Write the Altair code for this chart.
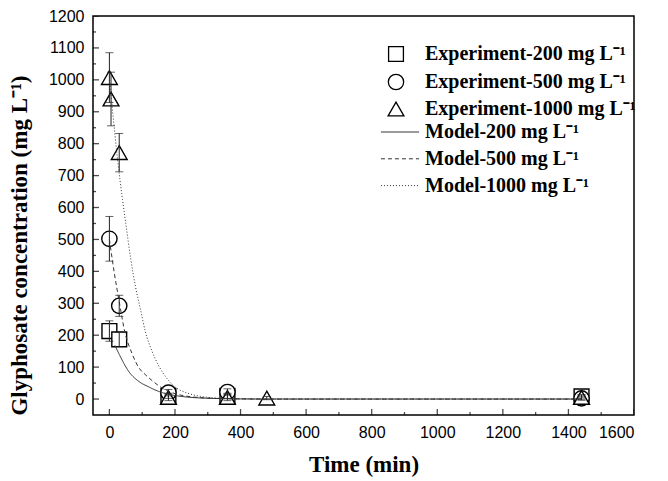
import altair as alt
import pandas as pd

# ---------------- data ----------------
exp_labels = ["Experiment-200 mg L⁻¹", "Experiment-500 mg L⁻¹", "Experiment-1000 mg L⁻¹"]
exp_shapes = ["square", "circle", "triangle-up"]

t_200 = [0, 30, 180, 360, 1440]
c_200 = [213, 187, 10, 10, 8]
e_200 = [32, 23, 8, 8, 5]

t_500 = [0, 30, 180, 360, 1440]
c_500 = [502, 292, 20, 22, 2]
e_500 = [70, 33, 10, 10, 5]

t_1000 = [0, 5, 30, 180, 360, 480, 1440]
c_1000 = [1007, 940, 772, 5, 5, 3, 5]
e_1000 = [78, 84, 60, 10, 10, 5, 8]

model_labels = ["Model-200 mg L⁻¹", "Model-500 mg L⁻¹", "Model-1000 mg L⁻¹"]
mt_200 = [17, 30, 60, 90, 120, 150, 180, 240, 300, 360, 480, 720, 1080, 1440]
mc_200 = [168, 140, 85, 55, 38, 24, 15, 6, 2.5, 1, 0, 0, 0, 0]
mt_500 = [0, 15, 30, 45, 70, 90, 110, 130, 160, 200, 250, 300, 360, 480, 720, 1440]
mc_500 = [500, 395, 305, 220, 140, 98, 76, 58, 35, 17, 7, 3, 1, 0, 0, 0]
mt_1000 = [0, 10, 25, 40, 50, 65, 80, 95, 110, 130, 150, 175, 200, 240, 280, 320, 360, 480, 720, 1440]
mc_1000 = [1010, 900, 750, 625, 550, 440, 350, 280, 210, 150, 105, 65, 38, 18, 8, 3.5, 1.5, 0, 0, 0]

x_major = [0, 200, 400, 600, 800, 1000, 1200, 1400, 1600]
x_minor = [100, 300, 500, 700, 900, 1100, 1300, 1500]
y_major = [0, 100, 200, 300, 400, 500, 600, 700, 800, 900, 1000, 1100, 1200]
y_minor = [50, 150, 250, 350, 450, 550, 650, 750, 850, 950, 1050, 1150]

# ---------------- tables ----------------
rows = []
for lab, ts, cs, es in zip(exp_labels, [t_200, t_500, t_1000], [c_200, c_500, c_1000], [e_200, e_500, e_1000]):
    for t, c, e in zip(ts, cs, es):
        rows.append({"t": t, "c": c, "lo": c - e, "hi": c + e, "exp": lab})
exp_df = pd.DataFrame(rows)
caps_df = pd.concat([
    exp_df[["t", "lo", "exp"]].rename(columns={"lo": "v"}),
    exp_df[["t", "hi", "exp"]].rename(columns={"hi": "v"}),
])

mrows = []
for lab, ts, cs in zip(model_labels, [mt_200, mt_500, mt_1000], [mc_200, mc_500, mc_1000]):
    for i, (t, c) in enumerate(zip(ts, cs)):
        mrows.append({"t": t, "c": c, "model": lab, "order": i})
model_df = pd.DataFrame(mrows)

W, H = 541, 399
xs = alt.Scale(domain=[-50, 1600], nice=False, zero=False)
ys = alt.Scale(domain=[-50, 1200], nice=False, zero=False)

serif = "Liberation Serif"
sans = "Liberation Sans"

main_x = alt.Axis(values=x_major, format="d", ticks=False, domain=False, grid=False,
                  labelFont=sans, labelFontSize=16, labelColor="black", labelPadding=9,
                  title="Time (min)", titleFont=serif, titleFontSize=23, titleFontWeight="bold",
                  titleColor="black", titlePadding=13)
main_y = alt.Axis(values=y_major, format="d", ticks=False, domain=False, grid=False,
                  labelFont=sans, labelFontSize=16, labelColor="black", labelPadding=9,
                  title="Glyphosate concentration (mg L⁻¹)", titleFont=serif, titleFontSize=23,
                  titleFontWeight="bold", titleColor="black", titleX=-62, titleY=229)

lines = alt.Chart(model_df).mark_line(interpolate="monotone", stroke="#333", strokeWidth=1).encode(
    x=alt.X("t:Q", scale=xs, axis=main_x),
    y=alt.Y("c:Q", scale=ys, axis=main_y),
    strokeDash=alt.StrokeDash("model:N",
        scale=alt.Scale(domain=model_labels, range=[[1, 0], [4, 3], [1, 2]]),
        legend=alt.Legend(orient="none", legendX=297, legendY=106, title="", padding=0,
                          symbolType="M-2.2,0H2.2", symbolSize=300, symbolStrokeColor="#333",
                          symbolFillColor="transparent",
                          symbolStrokeWidth=1, labelOffset=15, rowPadding=6.8,
                          labelFont=serif, labelFontSize=20, labelFontWeight="bold",
                          labelColor="black", labelLimit=400)),
    order="order:Q",
)

points = alt.Chart(exp_df).mark_point(filled=True, fill="white", stroke="black", strokeWidth=1.4, opacity=1).encode(
    x=alt.X("t:Q", scale=xs, axis=None),
    y=alt.Y("c:Q", scale=ys, axis=None),
    shape=alt.Shape("exp:N", scale=alt.Scale(domain=exp_labels, range=exp_shapes),
        legend=alt.Legend(orient="none", legendX=293, legendY=28, title="", padding=0,
                          symbolFillColor="white", symbolStrokeColor="black", symbolStrokeWidth=1.3,
                          labelOffset=19, rowPadding=6,
                          labelFont=serif, labelFontSize=20, labelFontWeight="bold",
                          labelColor="black", labelLimit=400)),
    size=alt.Size("exp:N", scale=alt.Scale(domain=exp_labels, range=[220, 250, 400])),
)

err = alt.Chart(exp_df).mark_rule(stroke="#222", strokeWidth=1).encode(
    x=alt.X("t:Q", scale=xs, axis=None),
    y=alt.Y("lo:Q", scale=ys, axis=None),
    y2="hi:Q",
)

caps = alt.Chart(caps_df).mark_tick(orient="horizontal", size=8, thickness=1, color="#222").encode(
    x=alt.X("t:Q", scale=xs, axis=None),
    y=alt.Y("v:Q", scale=ys, axis=None),
)

def xtick_layer(vals, length):
    return alt.Chart(pd.DataFrame({"v": vals})).mark_tick(
        orient="vertical", size=length, thickness=1.3, color="black", clip=True
    ).encode(
        x=alt.X("v:Q", scale=xs, axis=None),
        y=alt.YDatum(-50, scale=ys, axis=None),
    )

def ytick_layer(vals, length):
    return alt.Chart(pd.DataFrame({"v": vals})).mark_tick(
        orient="horizontal", size=length, thickness=1.3, color="black", clip=True
    ).encode(
        x=alt.XDatum(-50, scale=xs, axis=None),
        y=alt.Y("v:Q", scale=ys, axis=None),
    )

chart = alt.layer(
    points, err, caps, lines,
    xtick_layer(x_major, 12), xtick_layer(x_minor, 6),
    ytick_layer(y_major, 12), ytick_layer(y_minor, 6),
).resolve_axis(
    x="independent", y="independent"
).properties(
    width=W, height=H,
    autosize=alt.AutoSizeParams(type="none"),
    padding={"left": 85, "top": 8, "right": 20, "bottom": 65},
    background="white",
).configure_view(stroke="black", strokeWidth=1.5)

chart.save("out.html", embed_options={"renderer": "svg", "actions": False})
